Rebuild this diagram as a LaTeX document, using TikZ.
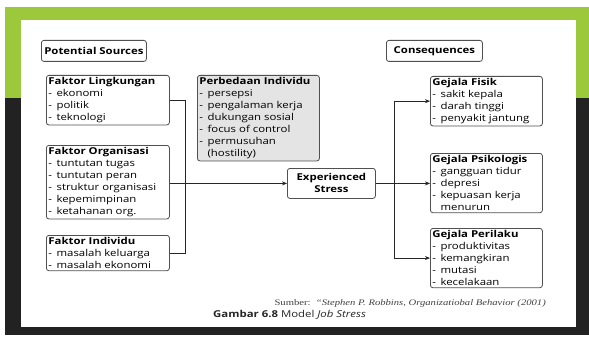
\documentclass[tikz,border=0pt]{standalone}
\usepackage{fontspec}
\setmainfont{Open Sans}[FakeStretch=1.2]
\newfontfamily\srcfont{Liberation Serif}[FakeStretch=1.25]
\usetikzlibrary{arrows.meta}
\definecolor{framegreen}{HTML}{9CC83C}
\definecolor{framedark}{HTML}{222222}
\definecolor{boxline}{HTML}{505050}
\definecolor{boxgray}{HTML}{E4E4E4}
\newcommand\itm{-\hspace{4.5pt}}

\begin{document}
\begin{tikzpicture}[x=1pt, y=-1pt,
    box/.style={draw=boxline, line width=0.8pt, rounded corners=2.5pt, anchor=north west,
      align=flush left, inner xsep=2pt, inner ysep=2pt, font=\fontsize{9.5}{12}\selectfont},
    head/.style={box, align=center, font=\fontsize{9.5}{12}\selectfont\bfseries},
    link/.style={draw=black!85, line width=0.7pt},
    arr/.style={link, -{Stealth[length=5pt,width=4pt]}}]
  % frame
  \useasboundingbox (0,0) rectangle (589,337);
  \fill[framedark] (5,7) rectangle (589,335);
  \fill[framegreen] (5,7) rectangle (589,98);
  \fill[white] (21,20) rectangle (576,327);

  % headings
  \node[head, minimum width=105pt, minimum height=21pt] (sources) at (41,40) {Potential Sources};
  \node[head, minimum width=96pt, minimum height=21pt] (consequences) at (386,40) {Consequences};

  % potential sources
  \node[box, text width=119pt] (lingkungan) at (46,75) {\textbf{Faktor Lingkungan}\\\itm ekonomi\\\itm politik\\\itm teknologi};
  \node[box, text width=119pt] (organisasi) at (46,145) {\textbf{Faktor Organisasi}\\\itm tuntutan tugas\\\itm tuntutan peran\\\itm struktur organisasi\\\itm kepemimpinan\\\itm ketahanan org.};
  \node[box, text width=119pt] (individu) at (46,235) {\textbf{Faktor Individu}\\\itm masalah keluarga\\\itm masalah ekonomi};
  \node[box, text width=118pt, fill=boxgray] (perbedaan) at (197,75) {\textbf{Perbedaan Individu}\\\itm persepsi\\\itm pengalaman kerja\\\itm dukungan sosial\\\itm focus of control\\\itm permusuhan\\\phantom{\itm}(hostility)};

  \node[head, minimum width=88pt, minimum height=30pt, align=center] (stress) at (287,168) {Experienced\\Stress};

  % consequences
  \node[box, text width=108pt] (fisik) at (430,76) {\textbf{Gejala Fisik}\\\itm sakit kepala\\\itm darah tinggi\\\itm penyakit jantung};
  \node[box, text width=108pt] (psikologis) at (430,153) {\textbf{Gejala Psikologis}\\\itm gangguan tidur\\\itm depresi\\\itm kepuasan kerja\\\phantom{\itm}menurun};
  \node[box, text width=108pt] (perilaku) at (430,228) {\textbf{Gejala Perilaku}\\\itm produktivitas\\\itm kemangkiran\\\itm mutasi\\\itm kecelakaan};

  % connectors
  \coordinate (lbus) at (185,183);
  \coordinate (rbus) at (394,183);
  \foreach \src in {lingkungan, individu}
    \draw[link] (\src.east) -| (lbus);
  \draw[arr] (organisasi.east |- stress.west) -- (stress.west);
  \draw[arr] (stress.east) -- (psikologis.west |- stress.east);
  \foreach \dest in {fisik, perilaku}
    \draw[arr] (rbus) |- (\dest.west);

  % caption
  \node[anchor=base east, font=\srcfont\fontsize{8.5}{10}\selectfont, text=black!75, inner sep=0pt] (sumber) at (546,305)
    {Sumber:\ \ \textit{“Stephen P. Robbins, Organizatiobal Behavior (2001)}};
  \node[anchor=base west, font=\fontsize{9.5}{11}\selectfont, text=black!85, inner sep=0pt] (gambar) at (213,317)
    {\textbf{Gambar 6.8} Model \textit{Job Stress}};
\end{tikzpicture}
\end{document}
